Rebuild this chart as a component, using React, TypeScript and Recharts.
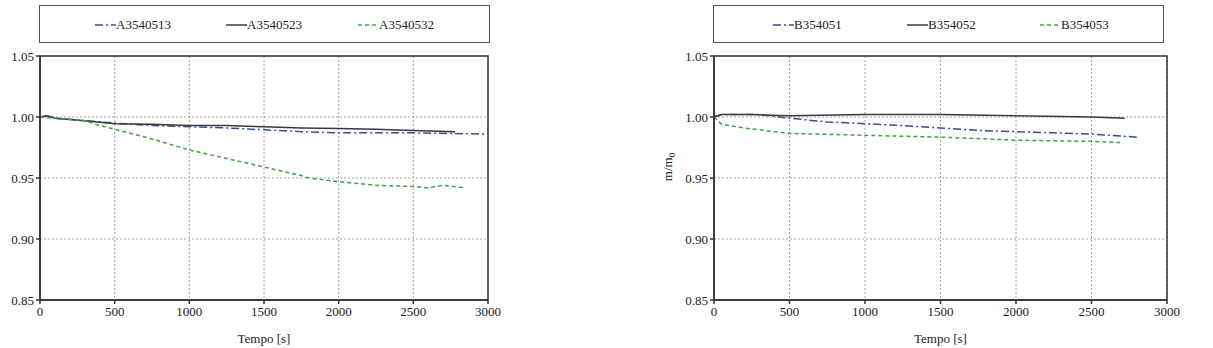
import React from "react";
import { LineChart, Line, XAxis, YAxis, CartesianGrid, ReferenceArea } from "recharts";

// Series A (left panel): elapsed time [s] and normalised mass m/m0
const tempoA3540513 = [0, 50, 100, 200, 300, 500, 750, 1000, 1250, 1500, 1750, 2000, 2250, 2500, 2750, 3000];
const massaA3540513 = [1.0, 1.001, 0.999, 0.998, 0.997, 0.995, 0.993, 0.992, 0.991, 0.9895, 0.988, 0.987, 0.987, 0.987, 0.9865, 0.986];

const tempoA3540523 = [0, 50, 100, 200, 300, 500, 750, 1000, 1250, 1500, 1750, 2000, 2250, 2500, 2780];
const massaA3540523 = [1.0, 1.001, 0.999, 0.998, 0.997, 0.9945, 0.994, 0.993, 0.993, 0.992, 0.991, 0.9905, 0.99, 0.989, 0.988];

const tempoA3540532 = [0, 100, 200, 300, 400, 500, 750, 1000, 1250, 1500, 1750, 1800, 2000, 2250, 2500, 2600, 2700, 2840];
const massaA3540532 = [1.0, 0.999, 0.998, 0.997, 0.993, 0.99, 0.982, 0.973, 0.966, 0.959, 0.952, 0.95, 0.947, 0.944, 0.943, 0.942, 0.944, 0.942];

// Series B (right panel)
const tempoB354051 = [0, 50, 100, 300, 500, 750, 1000, 1250, 1500, 1750, 2000, 2250, 2500, 2800];
const massaB354051 = [1.0, 1.002, 1.002, 1.002, 0.999, 0.996, 0.9945, 0.993, 0.991, 0.989, 0.988, 0.987, 0.986, 0.9835];

const tempoB354052 = [0, 50, 250, 500, 1000, 1500, 2000, 2500, 2720];
const massaB354052 = [1.0, 1.002, 1.002, 1.001, 1.002, 1.002, 1.001, 1.0, 0.999];

const tempoB354053 = [0, 50, 200, 500, 1000, 1500, 2000, 2500, 2700];
const massaB354053 = [1.0, 0.994, 0.991, 0.9865, 0.985, 0.9835, 0.981, 0.98, 0.979];

const xTicks = [0, 500, 1000, 1500, 2000, 2500, 3000];
const yTicks = [0.85, 0.9, 0.95, 1.0, 1.05];

const FONT = '"Liberation Serif", "Times New Roman", serif';
const FONT_SIZE = 13;

type Style = "dashdot" | "solid" | "dashed";

const STYLES: Record<Style, { stroke: string; dash?: string; width: number }> = {
  dashdot: { stroke: "#3d4c8e", dash: "8 3 2 3", width: 1.5 },
  solid: { stroke: "#3a3a3a", width: 1.5 },
  dashed: { stroke: "#44a044", dash: "4 3", width: 1.5 },
};

const toPoints = (xs: number[], ys: number[]) => xs.map((x, i) => ({ x, y: ys[i] }));

interface SeriesDef {
  name: string;
  style: Style;
  tempo: number[];
  massa: number[];
}

const seriesA: SeriesDef[] = [
  { name: "A3540513", style: "dashdot", tempo: tempoA3540513, massa: massaA3540513 },
  { name: "A3540523", style: "solid", tempo: tempoA3540523, massa: massaA3540523 },
  { name: "A3540532", style: "dashed", tempo: tempoA3540532, massa: massaA3540532 },
];

const seriesB: SeriesDef[] = [
  { name: "B354051", style: "dashdot", tempo: tempoB354051, massa: massaB354051 },
  { name: "B354052", style: "solid", tempo: tempoB354052, massa: massaB354052 },
  { name: "B354053", style: "dashed", tempo: tempoB354053, massa: massaB354053 },
];

function LegendIcon({ style }: { style: Style }) {
  const s = STYLES[style];
  return (
    <svg width={21} height={10} style={{ display: "inline-block", verticalAlign: "middle" }}>
      <line x1={0} y1={5} x2={21} y2={5} stroke={s.stroke} strokeWidth={1.5} strokeDasharray={s.dash} />
    </svg>
  );
}

function LegendBox({ series, itemLefts, left }: { series: SeriesDef[]; itemLefts: number[]; left: number }) {
  return (
    <div
      style={{
        position: "absolute",
        left,
        top: 5,
        width: 451,
        height: 38,
        border: "1px solid #555",
        boxSizing: "border-box",
        background: "#fff",
        fontFamily: FONT,
        fontSize: FONT_SIZE,
        color: "#222",
      }}
    >
      {series.map((s, i) => (
        <div
          key={s.name}
          style={{ position: "absolute", left: itemLefts[i], top: 11, whiteSpace: "nowrap", lineHeight: "14px" }}
        >
          <LegendIcon style={s.style} />
          <span style={{ verticalAlign: "middle" }}>{s.name}</span>
        </div>
      ))}
    </div>
  );
}

interface PanelProps {
  series: SeriesDef[];
  width: number;
  yAxisWidth: number;
  rightMargin: number;
  showYLabel: boolean;
}

function Panel({ series, width, yAxisWidth, rightMargin, showYLabel }: PanelProps) {
  const tickStyle = { fontFamily: FONT, fontSize: FONT_SIZE, fill: "#222" };
  return (
    <LineChart width={width} height={348} margin={{ top: 56, right: rightMargin, bottom: 0, left: 0 }}>
      <CartesianGrid stroke="#8a8a8a" strokeDasharray="2 2" strokeWidth={0.8} />
      <XAxis
        dataKey="x"
        type="number"
        domain={[0, 3000]}
        ticks={xTicks}
        height={48}
        tick={tickStyle}
        tickSize={4}
        tickMargin={3}
        stroke="#333"
        strokeWidth={1.5}
        allowDuplicatedCategory={false}
        label={{
          content: (props: any) => {
            const vb = props.viewBox || {};
            return (
              <text
                x={vb.x + vb.width / 2}
                y={343}
                textAnchor="middle"
                fontFamily={FONT}
                fontSize={FONT_SIZE}
                fill="#222"
              >
                Tempo [s]
              </text>
            );
          },
        }}
      />
      <YAxis
        type="number"
        domain={[0.85, 1.05]}
        ticks={yTicks}
        width={yAxisWidth}
        tick={tickStyle}
        tickFormatter={(v: number) => v.toFixed(2)}
        tickSize={4}
        tickMargin={2}
        stroke="#333"
        strokeWidth={1.5}
        label={
          showYLabel
            ? {
                content: () => (
                  <text
                    transform="rotate(-90, 12, 167)"
                    x={12}
                    y={167}
                    textAnchor="middle"
                    fontFamily={FONT}
                    fontSize={FONT_SIZE}
                    fill="#222"
                  >
                    m/m
                    <tspan fontSize={9} dy={3}>0</tspan>
                  </text>
                ),
              }
            : undefined
        }
      />
      {/* plot-area frame */}
      <ReferenceArea
        x1={0}
        x2={3000}
        y1={0.85}
        y2={1.05}
        fill="none"
        fillOpacity={0}
        stroke="#333"
        strokeWidth={1.5}
        ifOverflow="visible"
      />
      {series.map((s) => {
        const st = STYLES[s.style];
        return (
          <Line
            key={s.name}
            name={s.name}
            data={toPoints(s.tempo, s.massa)}
            dataKey="y"
            type="linear"
            stroke={st.stroke}
            strokeWidth={st.width}
            strokeDasharray={st.dash}
            dot={false}
            activeDot={false}
            isAnimationActive={false}
          />
        );
      })}
    </LineChart>
  );
}

export default function App() {
  return (
    <div style={{ position: "absolute", left: 0, top: 0, width: 1213, height: 348, background: "#fff", overflow: "hidden" }}>
      <div style={{ position: "absolute", left: 0, top: 0 }}>
        <Panel series={seriesA} width={560} yAxisWidth={40} rightMargin={72} showYLabel={false} />
      </div>
      <div style={{ position: "absolute", left: 660, top: 0 }}>
        <Panel series={seriesB} width={553} yAxisWidth={54} rightMargin={46} showYLabel={true} />
      </div>
      <LegendBox series={seriesA} itemLefts={[55, 186, 318]} left={39} />
      <LegendBox series={seriesB} itemLefts={[59, 193, 326]} left={713} />
    </div>
  );
}
